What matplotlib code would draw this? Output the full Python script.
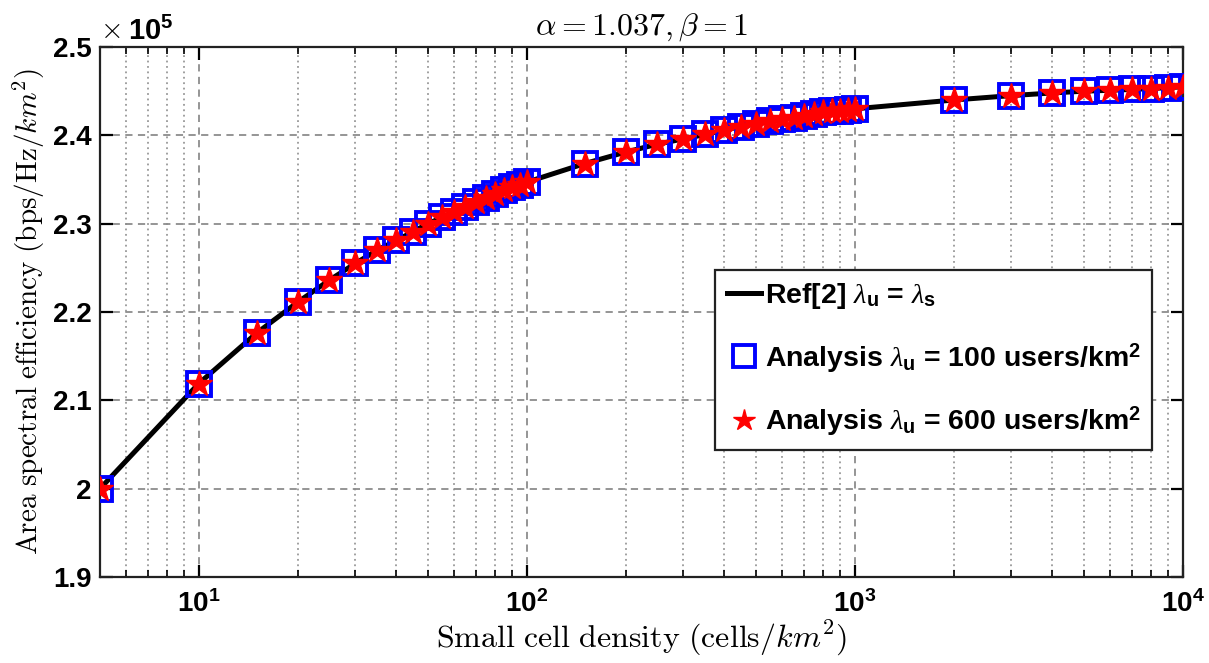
import numpy as np
import matplotlib
matplotlib.use('Agg')
import matplotlib.pyplot as plt
from matplotlib.ticker import FixedLocator, NullFormatter, FuncFormatter

plt.rcParams['mathtext.fontset'] = 'custom'
plt.rcParams['mathtext.rm'] = 'Liberation Sans:bold'
plt.rcParams['mathtext.bf'] = 'Liberation Sans:bold'
plt.rcParams['mathtext.it'] = 'Liberation Serif:italic'
plt.rcParams['mathtext.fallback'] = 'cm'

# small cell density (cells/km^2)
density = [5, 10, 15, 20, 25, 30, 35, 40, 45, 50, 55, 60, 65, 70, 75, 80, 85, 90, 95, 100,
           150, 200, 250, 300, 350, 400, 450, 500, 550, 600, 650, 700, 750, 800, 850, 900, 950, 1000,
           2000, 3000, 4000, 5000, 6000, 7000, 8000, 9000, 10000]

# area spectral efficiency, x1e5 bps/Hz/km^2
ase_ref = [2.000, 2.119, 2.176, 2.211, 2.236, 2.255, 2.270, 2.281, 2.291, 2.300,
           2.307, 2.313, 2.319, 2.324, 2.329, 2.334, 2.338, 2.341, 2.344, 2.347,
           2.368, 2.381, 2.390, 2.396, 2.401, 2.406, 2.410, 2.413, 2.416, 2.418,
           2.420, 2.422, 2.424, 2.426, 2.427, 2.428, 2.429, 2.430,
           2.440, 2.445, 2.448, 2.450, 2.451, 2.452, 2.453, 2.454, 2.455]
ase_100 = list(ase_ref)
ase_600 = list(ase_ref)

yticks = [1.9, 2.0, 2.1, 2.2, 2.3, 2.4, 2.5]
xticks = [10, 100, 1000, 10000]
xticklabels = [r'$\mathbf{10^{1}}$', r'$\mathbf{10^{2}}$', r'$\mathbf{10^{3}}$', r'$\mathbf{10^{4}}$']

fig = plt.figure(figsize=(12.09, 6.63), dpi=100)
ax = fig.add_axes([0.0827, 0.1297, 0.8958, 0.7994])

ax.plot(density, ase_ref, '-', color='k', lw=3.6,
        label=r'Ref[2] $\lambda_\mathbf{u}$ = $\lambda_\mathbf{s}$', zorder=3)
ax.plot(density, ase_100, 's', ls='none', mfc='none', mec='#0000ff', mew=2.8, ms=17,
        label=r'Analysis $\lambda_\mathbf{u}$ = 100 users/km$^\mathbf{2}$', zorder=4)
ax.plot(density, ase_600, '*', ls='none', mfc='red', mec='red', ms=19,
        label=r'Analysis $\lambda_\mathbf{u}$ = 600 users/km$^\mathbf{2}$', zorder=5)

ax.set_xscale('log')
ax.set_xlim(5, 10000)
ax.set_ylim(1.9, 2.5)
ax.set_xticks(xticks)
ax.set_xticklabels(xticklabels)
minors = [m * 10 ** e for e in range(0, 4) for m in range(2, 10) if 5 < m * 10 ** e < 10000]
ax.xaxis.set_minor_locator(FixedLocator(minors))
ax.xaxis.set_minor_formatter(NullFormatter())
ax.set_yticks(yticks)
ax.yaxis.set_major_formatter(FuncFormatter(lambda v, p: '%g' % round(v, 2)))

for lbl in ax.get_yticklabels():
    lbl.set_fontweight('bold')
    lbl.set_family('Liberation Sans')
ax.tick_params(axis='both', which='major', direction='in', length=9, width=1.6,
               top=True, right=True, labelsize=20)
ax.tick_params(axis='y', which='major', pad=6)
ax.tick_params(axis='x', which='major', pad=9)
ax.tick_params(axis='x', which='minor', direction='in', length=5, width=1.2, top=True)

ax.grid(True, which='major', ls=(0, (4, 3)), color='#8c8c8c', lw=1.3)
ax.grid(True, which='minor', axis='x', ls=(0, (1, 2)), color='#999999', lw=1.3)
ax.set_axisbelow(True)
for s in ax.spines.values():
    s.set_linewidth(1.6)
    s.set_color('#222222')

ax.set_title(r'$\alpha = 1.037, \beta = 1$', fontsize=23, math_fontfamily='cm', pad=9)
ax.set_xlabel(r'$\mathrm{Small\ cell\ density\ (cells/}km^2\mathrm{)}$', fontsize=23,
              math_fontfamily='cm', labelpad=1)
ax.set_ylabel(r'$\mathrm{Area\ spectral\ efficiency\ (bps/Hz/}km^2\mathrm{)}$', fontsize=21,
              math_fontfamily='cm', labelpad=4)
ax.text(0.0, 1.006, r'$\times$', transform=ax.transAxes, fontsize=21,
        math_fontfamily='cm', ha='left', va='bottom')
ax.text(0.026, 1.002, r'$\mathbf{10^{5}}$', transform=ax.transAxes, fontsize=21,
        ha='left', va='bottom')

leg = ax.legend(loc='upper left', bbox_to_anchor=(0.568, 0.58),
                prop={'family': 'Liberation Sans', 'weight': 'bold', 'size': 20.5},
                handlelength=1.2, handletextpad=0.15, borderpad=0.4, labelspacing=1.05,
                fancybox=False, framealpha=1, borderaxespad=0)
leg.get_frame().set_edgecolor('#222222')
leg.get_frame().set_linewidth(1.6)
for h in leg.legend_handles:
    h.set_markersize(16)

fig.savefig('out.png', dpi=100)
